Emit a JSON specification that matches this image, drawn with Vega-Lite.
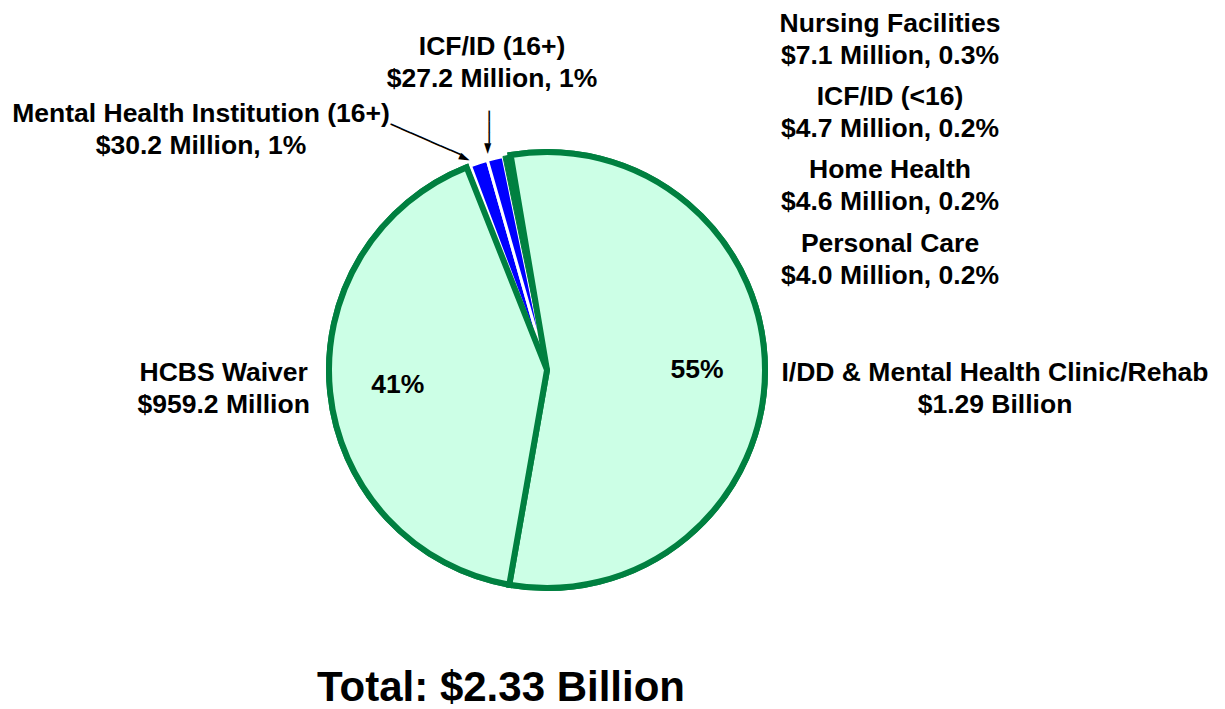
{
  "$schema": "https://vega.github.io/schema/vega-lite/v6.json",
  "width": 1094,
  "height": 678,
  "autosize": {"type": "none"},
  "padding": {"left": 0, "top": 31, "right": 131, "bottom": 0},
  "background": "white",
  "config": {"view": {"stroke": null}, "font": "Liberation Sans"},
  "title": {"text": "Total: $2.33 Billion", "orient": "bottom", "anchor": "middle", "fontSize": 42, "fontWeight": "bold", "font": "Liberation Sans", "color": "black", "dx": -46, "offset": -8, "baseline": "alphabetic"},
  "data": {"values": [
    {"name": "I/DD & Mental Health Clinic/Rehab", "value": 1290, "ord": 1, "pct": "55%", "label": "I/DD & Mental Health Clinic/Rehab\n$1.29 Billion"},
    {"name": "HCBS Waiver", "value": 959.2, "ord": 2, "pct": "41%", "label": "HCBS Waiver\n$959.2 Million"},
    {"name": "Nursing Facilities", "value": 7.1, "ord": 3, "pct": "", "label": "Nursing Facilities\n$7.1 Million, 0.3%"},
    {"name": "Mental Health Institution (16+)", "value": 30.2, "ord": 4, "pct": "", "label": "Mental Health Institution (16+)\n$30.2 Million, 1%"},
    {"name": "ICF/ID (16+)", "value": 27.2, "ord": 5, "pct": "", "label": "ICF/ID (16+)\n$27.2 Million, 1%"},
    {"name": "ICF/ID (<16)", "value": 4.7, "ord": 6, "pct": "", "label": "ICF/ID (<16)\n$4.7 Million, 0.2%"},
    {"name": "Home Health", "value": 4.6, "ord": 7, "pct": "", "label": "Home Health\n$4.6 Million, 0.2%"},
    {"name": "Personal Care", "value": 4.0, "ord": 8, "pct": "", "label": "Personal Care\n$4.0 Million, 0.2%"}
  ]},
  "layer": [
    {
      "mark": {"type": "arc", "radius": 218},
      "encoding": {
        "theta": {"field": "value", "type": "quantitative", "stack": true, "scale": {"range": [-0.167552, 6.115633]}},
        "order": {"field": "ord", "type": "quantitative"},
        "color": {"field": "name", "type": "nominal", "legend": null, "scale": {
          "domain": ["I/DD & Mental Health Clinic/Rehab", "HCBS Waiver", "Mental Health Institution (16+)", "ICF/ID (16+)", "Nursing Facilities", "ICF/ID (<16)", "Home Health", "Personal Care"],
          "range": ["#CCFFE6", "#CCFFE6", "#0000FF", "#0000FF", "#008040", "#008040", "#008040", "#008040"]}},
        "stroke": {"field": "name", "type": "nominal", "legend": null, "scale": {
          "domain": ["I/DD & Mental Health Clinic/Rehab", "HCBS Waiver", "Mental Health Institution (16+)", "ICF/ID (16+)", "Nursing Facilities", "ICF/ID (<16)", "Home Health", "Personal Care"],
          "range": ["#008040", "#008040", "#FFFFFF", "#FFFFFF", "#008040", "#008040", "#008040", "#008040"]}},
        "strokeWidth": {"condition": [{"test": "datum.value > 100", "value": 6}, {"test": "datum.value > 20", "value": 3}], "value": 1}
      }
    },
    {
      "mark": {"type": "arc", "radius": 218, "strokeWidth": 6},
      "encoding": {
        "theta": {"field": "value", "type": "quantitative", "stack": true},
        "order": {"field": "ord", "type": "quantitative"},
        "fill": {"condition": {"test": "datum.value > 100", "value": "#CCFFE6"}, "value": "transparent"},
        "stroke": {"condition": {"test": "datum.value > 100", "value": "#008040"}, "value": "transparent"}
      }
    },
    {
      "mark": {"type": "text", "radius": 150, "fontSize": 26.5, "fontWeight": "bold", "color": "black", "font": "Liberation Sans"},
      "encoding": {
        "theta": {"field": "value", "type": "quantitative", "stack": true},
        "order": {"field": "ord", "type": "quantitative"},
        "text": {"field": "pct", "type": "nominal"}
      }
    },
    {
      "mark": {"type": "text", "radius": 448, "fontSize": 26.5, "fontWeight": "bold", "color": "black", "font": "Liberation Sans", "lineBreak": "\n", "lineHeight": 32, "align": "center", "baseline": "middle", "dy": 2},
      "encoding": {
        "theta": {"field": "value", "type": "quantitative", "stack": true},
        "order": {"field": "ord", "type": "quantitative"},
        "text": {"condition": {"test": "datum.ord === 1", "field": "label"}, "value": ""}
      }
    },
    {
      "mark": {"type": "text", "radius": 325, "fontSize": 26.5, "fontWeight": "bold", "color": "black", "font": "Liberation Sans", "lineBreak": "\n", "lineHeight": 32, "align": "center", "baseline": "middle", "dy": -30.5},
      "encoding": {
        "theta": {"field": "value", "type": "quantitative", "stack": true},
        "order": {"field": "ord", "type": "quantitative"},
        "text": {"condition": {"test": "datum.ord === 2", "field": "label"}, "value": ""}
      }
    },
    {
      "mark": {"type": "text", "radius": 240, "fontSize": 26.5, "fontWeight": "bold", "color": "black", "font": "Liberation Sans", "lineBreak": "\n", "lineHeight": 32, "align": "center", "baseline": "middle", "dx": -271, "dy": -28.5},
      "encoding": {
        "theta": {"field": "value", "type": "quantitative", "stack": true},
        "order": {"field": "ord", "type": "quantitative"},
        "text": {"condition": {"test": "datum.ord === 4", "field": "label"}, "value": ""}
      }
    },
    {
      "mark": {"type": "text", "radius": 300, "fontSize": 26.5, "fontWeight": "bold", "color": "black", "font": "Liberation Sans", "lineBreak": "\n", "lineHeight": 32, "align": "center", "baseline": "middle", "dx": 16.4, "dy": -31.6},
      "encoding": {
        "theta": {"field": "value", "type": "quantitative", "stack": true},
        "order": {"field": "ord", "type": "quantitative"},
        "text": {"condition": {"test": "datum.ord === 5", "field": "label"}, "value": ""}
      }
    },
    {
      "mark": {"type": "text", "radius": 235, "fontSize": 18, "color": "black", "font": "DejaVu Sans Mono", "align": "center", "baseline": "middle", "angle": 23.6, "dx": -41.6, "dy": 13.6},
      "encoding": {
        "theta": {"field": "value", "type": "quantitative", "stack": true},
        "order": {"field": "ord", "type": "quantitative"},
        "text": {"condition": {"test": "datum.ord === 4", "value": "───────►"}, "value": ""}
      }
    },
    {
      "mark": {"type": "text", "radius": 245, "fontSize": 18, "color": "black", "font": "DejaVu Sans Mono", "align": "center", "baseline": "middle", "angle": 90, "dx": 0.5, "dy": 0.7},
      "encoding": {
        "theta": {"field": "value", "type": "quantitative", "stack": true},
        "order": {"field": "ord", "type": "quantitative"},
        "text": {"condition": {"test": "datum.ord === 5", "value": "───►"}, "value": ""}
      }
    },
    {
      "transform": [{"filter": "datum.value < 10"}],
      "mark": {"type": "text", "fontSize": 26.5, "fontWeight": "bold", "color": "black", "font": "Liberation Sans", "lineBreak": "\n", "lineHeight": 32, "align": "center", "baseline": "middle", "dx": 343},
      "encoding": {
        "y": {"field": "name", "type": "nominal", "axis": null, "scale": {"type": "point", "domain": ["Nursing Facilities", "ICF/ID (<16)", "Home Health", "Personal Care"], "range": [-7.5, 212.5], "padding": 0}},
        "text": {"field": "label", "type": "nominal"}
      }
    }
  ]
}
